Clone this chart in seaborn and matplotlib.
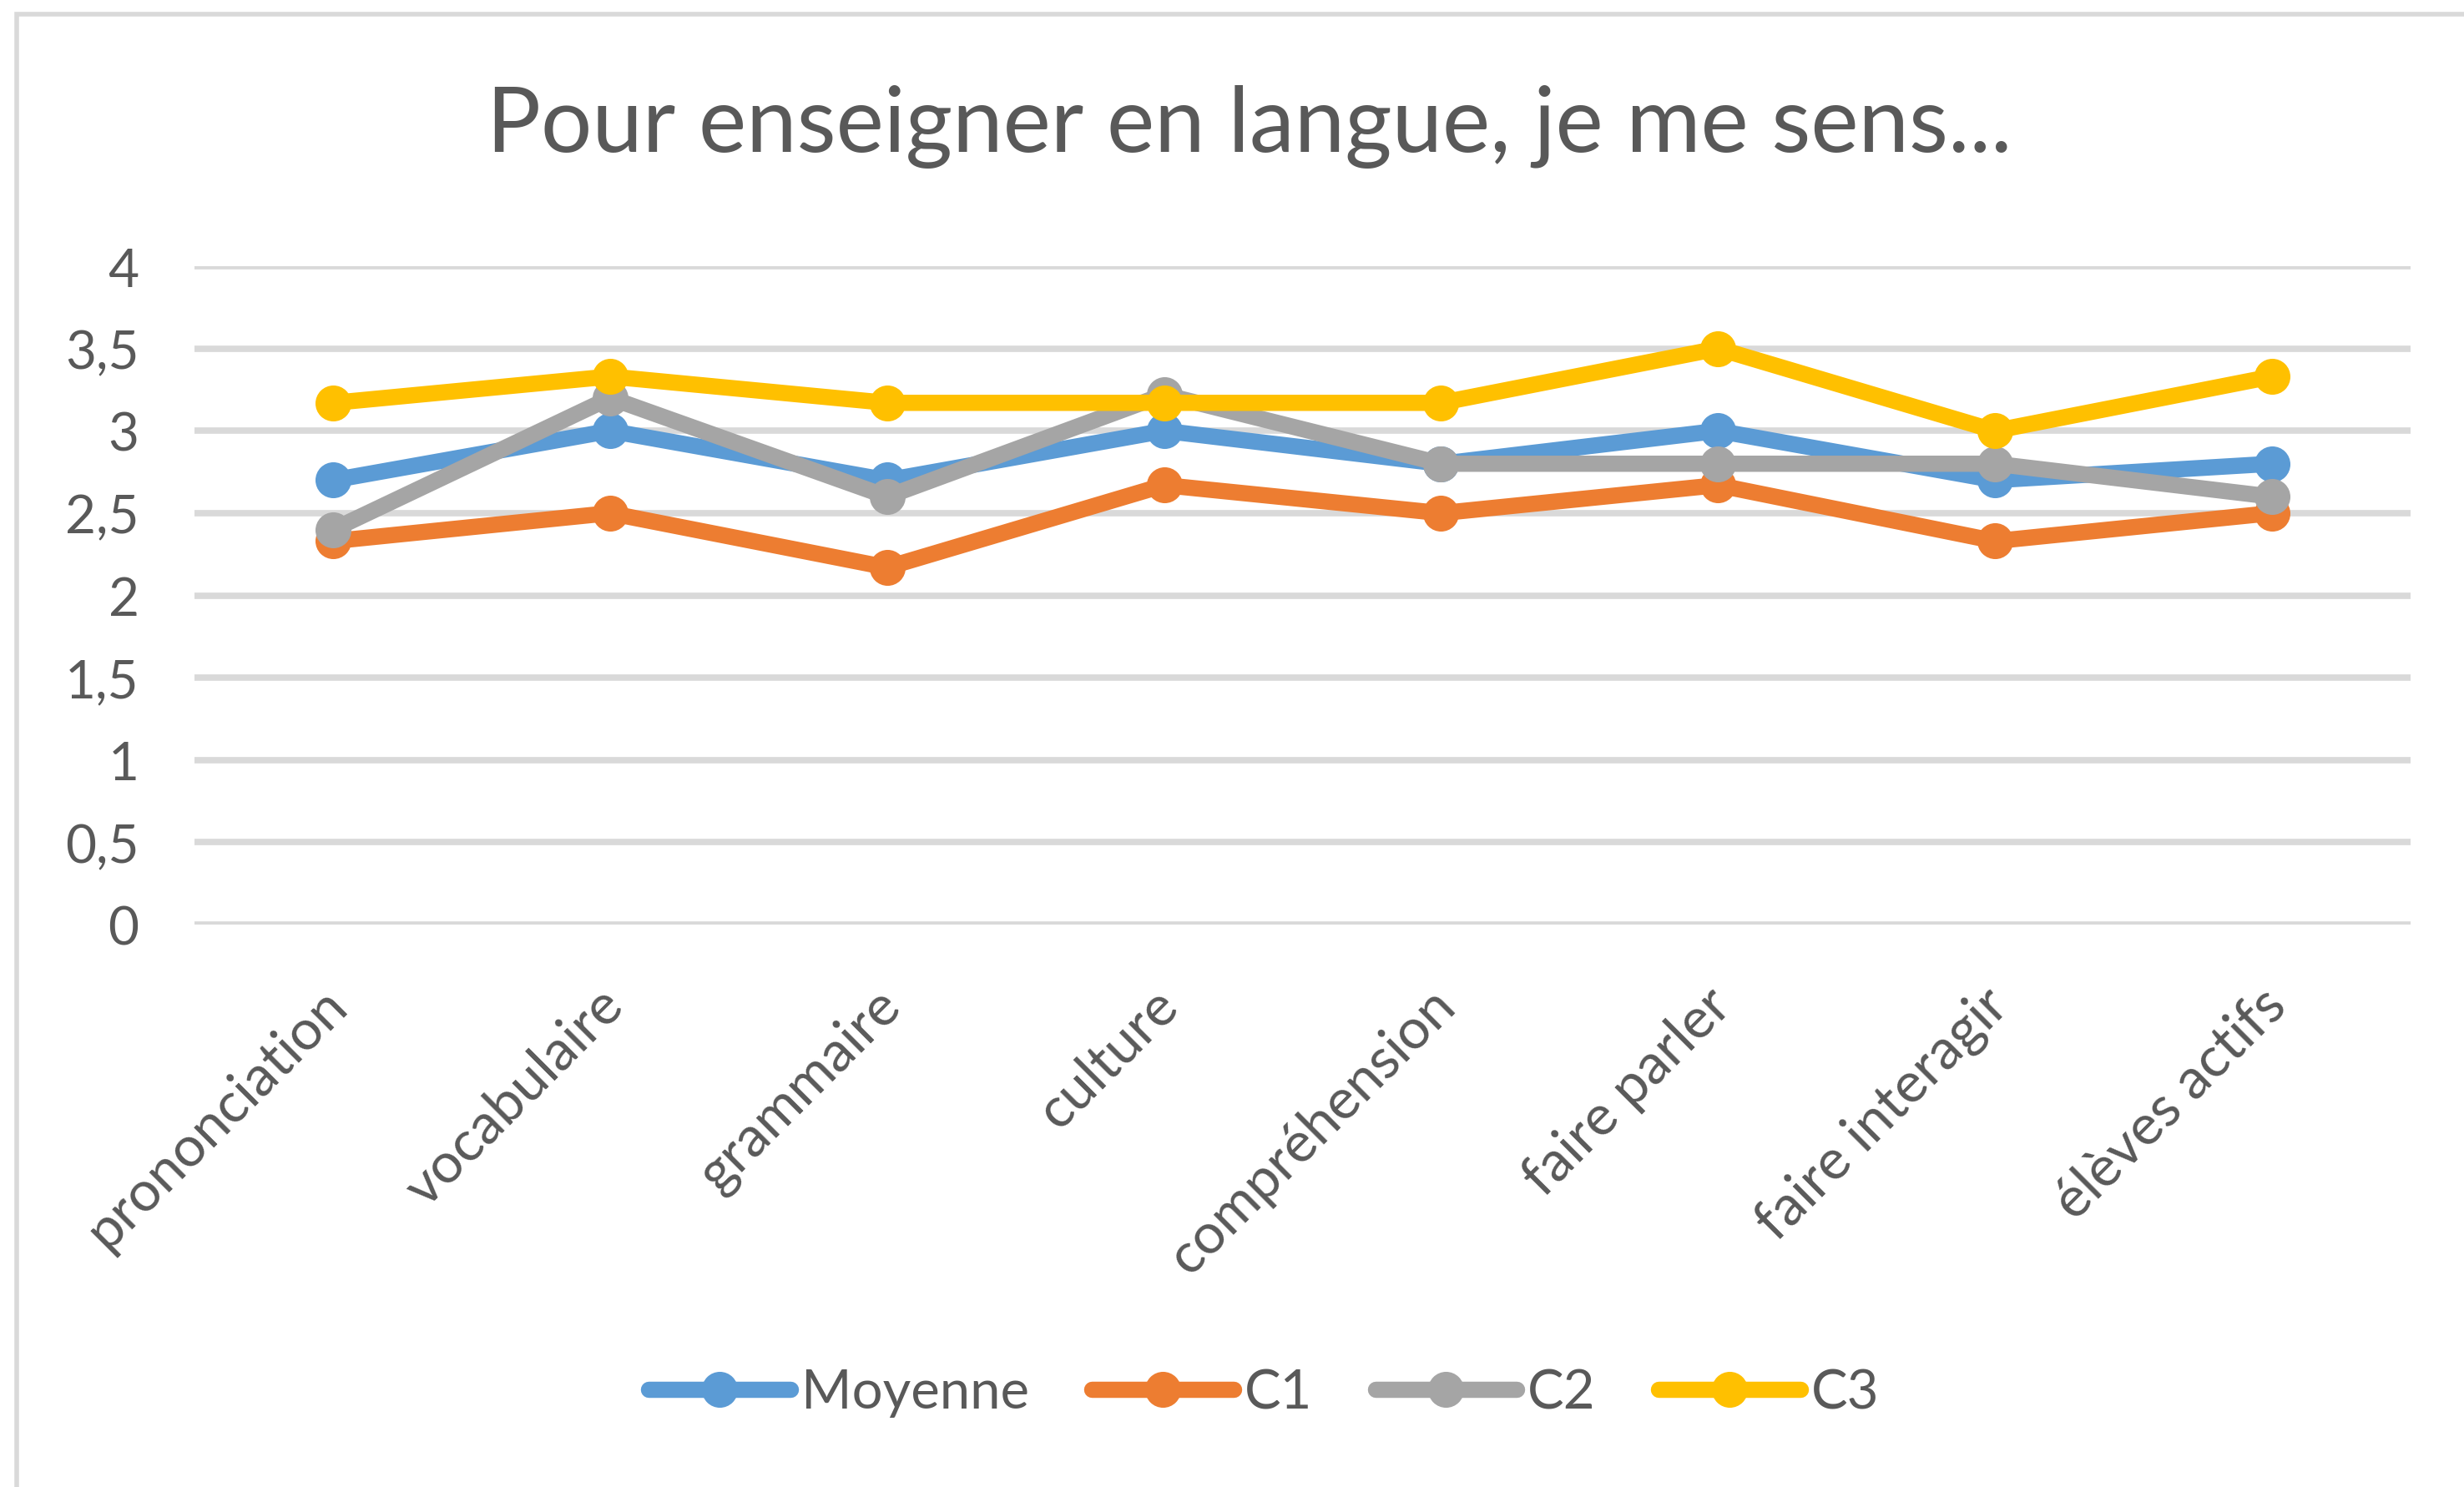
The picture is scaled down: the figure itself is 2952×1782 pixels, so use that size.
import numpy as np
import pandas as pd
import matplotlib
matplotlib.use('Agg')
import matplotlib.pyplot as plt
from matplotlib.patches import Rectangle
from matplotlib.transforms import ScaledTranslation
import seaborn as sns

# ── Data ──────────────────────────────────────────────
categories = ['prononciation', 'vocabulaire', 'grammaire', 'culture',
              'compréhension', 'faire parler', 'faire interagir', 'élèves actifs']
moyenne = [2.7, 3.0, 2.7, 3.0, 2.8, 3.0, 2.7, 2.8]
c1      = [2.33, 2.5, 2.17, 2.67, 2.5, 2.67, 2.33, 2.5]
c2      = [2.4, 3.2, 2.6, 3.22, 2.8, 2.8, 2.8, 2.6]
c3      = [3.17, 3.33, 3.17, 3.17, 3.17, 3.5, 3.0, 3.33]
series_names = ['Moyenne', 'C1', 'C2', 'C3']
y_ticks = [0, 0.5, 1, 1.5, 2, 2.5, 3, 3.5, 4]
y_tick_labels = ['0', '0,5', '1', '1,5', '2', '2,5', '3', '3,5', '4']
title = 'Pour enseigner en langue, je me sens...'

palette = {'Moyenne': '#5B9BD5', 'C1': '#ED7D31', 'C2': '#A5A5A5', 'C3': '#FFC000'}
text_col = '#595959'
grid_col = '#D9D9D9'

df = pd.DataFrame({
    'categorie': categories * 4,
    'valeur': moyenne + c1 + c2 + c3,
    'serie': np.repeat(series_names, len(categories)),
})

# ── Figure ────────────────────────────────────────────
sns.set_style('white')
plt.rcParams['font.family'] = ['Lato', 'DejaVu Sans']

fig = plt.figure(figsize=(29.52, 17.83), dpi=100)
ax = fig.add_axes([0.079, 0.378, 0.8993, 0.4425])

sns.lineplot(data=df, x='categorie', y='valeur', hue='serie', palette=palette,
             sort=False, marker='o', markersize=31, markeredgewidth=0,
             linewidth=14, ax=ax)

ax.set_xlim(-0.5, len(categories) - 0.5)
ax.set_ylim(0, 4)
ax.set_yticks(y_ticks)
ax.set_yticklabels(y_tick_labels)
ax.set_xlabel('')
ax.set_ylabel('')
for s in ax.spines.values():
    s.set_visible(False)
ax.grid(axis='y', color=grid_col, linewidth=5.5)
ax.set_axisbelow(True)
ax.tick_params(axis='both', length=0, labelcolor=text_col)
ax.tick_params(axis='y', pad=48, labelsize=46)
ax.tick_params(axis='x', pad=62, labelsize=48.5)
for lab in ax.get_xticklabels():
    lab.set_rotation(45)
    lab.set_ha('right')
    lab.set_va('center')
    lab.set_rotation_mode('anchor')
    lab.set_transform(lab.get_transform() + ScaledTranslation(0.06, 0, fig.dpi_scale_trans))

fig.text(0.507, 0.915, title, ha='center', va='center', fontsize=78, color=text_col)

handles, labels = ax.get_legend_handles_labels()
ax.get_legend().remove()
fig.legend(handles, labels, loc='center', bbox_to_anchor=(0.513, 0.0634), ncol=4,
           frameon=False, fontsize=47, labelcolor=text_col, handlelength=2.6,
           handletextpad=0.2, columnspacing=1.15)

# light chart border (right/bottom edges fall outside the picture)
fig.patches.append(Rectangle((0.0068, -0.1), 1.2, 1.09, transform=fig.transFigure,
                             fill=False, edgecolor=grid_col, linewidth=4))

fig.savefig('out.png', dpi=100, facecolor='white')
